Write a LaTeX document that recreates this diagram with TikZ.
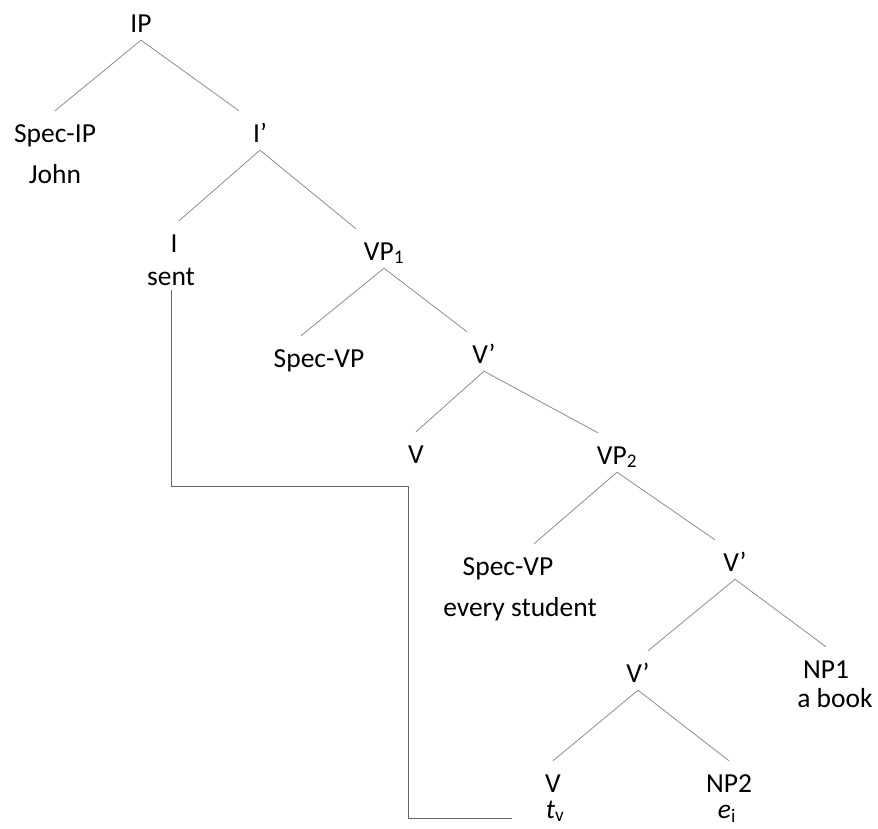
\documentclass[tikz,border=0pt]{standalone}
\usepackage{fontspec}
\setmainfont{Carlito}
\definecolor{branchgray}{gray}{0.55}
\definecolor{tracegray}{gray}{0.4}
\tikzset{
	cat/.style={anchor=base, inner xsep=0pt, inner ysep=8pt, text height=23pt, text depth=0pt, font=\fontsize{27.5}{33}\selectfont},
	word/.style={anchor=base, inner sep=0pt, font=\fontsize{27.5}{33}\selectfont},
	branch/.style={draw=branchgray, line width=0.8pt},
	trace/.style={draw=tracegray, line width=0.8pt}
}

\begin{document}
\begin{tikzpicture}[x=1pt,y=-1pt]
	\useasboundingbox (0,0) rectangle (878,828);
	\node[cat] (ip) at (141,32) {IP};
	\node[cat] (specip) at (55,142) {Spec-IP};
	\node[word] (john) at (55,183) {John};
	\node[cat] (ibar) at (260,142) {I’};
	\node[cat] (i) at (174,252) {I};
	\node[word] (sent) at (171,285) {sent};
	\node[cat] (vpa) at (384,260) {VP\textsubscript{1}};
	\node[cat] (specvpa) at (319,367) {Spec-VP};
	\node[cat] (vbara) at (484,363) {V’};
	\node[cat] (v) at (416,463) {V};
	\node[cat] (vpb) at (617,464) {VP\textsubscript{2}};
	\node[cat] (specvpb) at (508,575) {Spec-VP};
	\node[word] (every) at (520,616) {every student};
	\node[cat] (vbarb) at (735,571) {V’};
	\node[cat] (vbarc) at (638,682) {V’};
	\node[cat] (npa) at (826,678) {NP1};
	\node[word] (abook) at (835,707) {a book};
	\node[cat] (vb) at (553,792) {V};
	\node[word] (tv) at (555,818) {\textit{t}\textsubscript{v}};
	\node[cat] (npb) at (729,792) {NP2};
	\node[word] (ei) at (727,818) {\textit{e}\textsubscript{i}};
	\coordinate (bend) at (408,486);

	\draw[branch] (ip.south) -- (specip.north);
	\draw[branch] (ip.south) -- ([xshift=-21pt]ibar.north);
	\draw[branch] (ibar.south) -- ([xshift=5pt]i.north);
	\draw[branch] (ibar.south) -- ([xshift=-28pt]vpa.north);
	\draw[branch] (vpa.south) -- ([xshift=-18pt]specvpa.north);
	\draw[branch] (vpa.south) -- ([xshift=-17pt]vbara.north);
	\draw[branch] (vbara.south) -- (v.north);
	\draw[branch] (vbara.south) -- ([xshift=-19pt]vpb.north);
	\draw[branch] (vpb.south) -- ([xshift=26pt]specvpb.north);
	\draw[branch] (vpb.south) -- ([xshift=-20pt]vbarb.north);
	\draw[branch] (vbarb.south) -- ([xshift=10pt]vbarc.north);
	\draw[branch] (vbarb.south) -- (npa.north);
	\draw[branch] (vbarc.south) -- (vb.north);
	\draw[branch] (vbarc.south) -- (npb.north);

	\draw[trace, shorten <=5pt] (sent.south) |- (bend) |- ([xshift=-34pt]tv.base west);
\end{tikzpicture}
\end{document}
